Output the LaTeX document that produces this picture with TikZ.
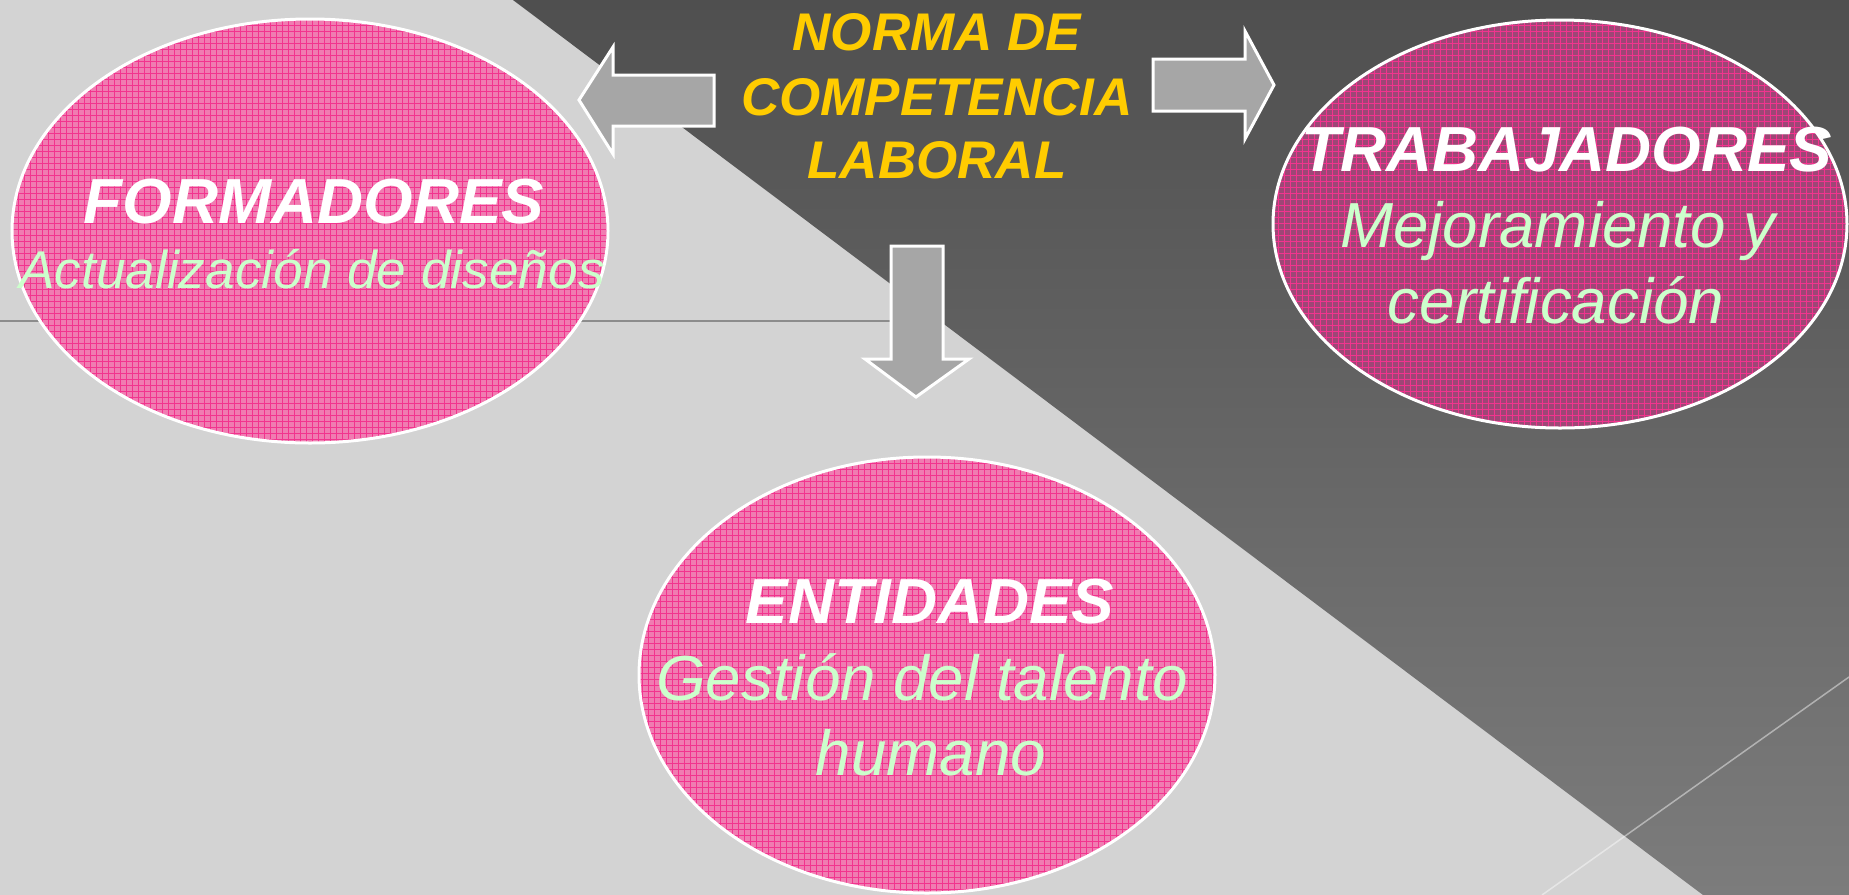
\documentclass[tikz,border=0pt]{standalone}
\usepackage{fontspec}
\setmainfont{Liberation Sans}
\usepackage{xcolor}
\usepackage{tikz}
\usetikzlibrary{shapes.geometric,patterns}

\definecolor{bglight}{HTML}{D3D3D3}
\definecolor{darktop}{HTML}{4F4F4F}
\definecolor{darkbot}{HTML}{7C7C7C}
\definecolor{linegrey}{HTML}{8C8C8C}
\definecolor{arrowgrey}{HTML}{A6A6A6}
\definecolor{pinklight}{HTML}{F07CB1}
\definecolor{pinkdark}{HTML}{9E4676}
\definecolor{hotpink}{HTML}{F2348E}
\definecolor{gold}{HTML}{FFCC00}
\definecolor{mint}{HTML}{CCFFCC}

\begin{document}
\begin{tikzpicture}[x=0.5pt,y=-0.5pt,
    blob/.style={ellipse, draw=white, line width=1.5pt, inner sep=0pt, pattern=grid, pattern color=hotpink},
    blockarrow/.style={fill=arrowgrey, draw=white, line width=1.5pt},
    head/.style={anchor=base, text=white, font=\fontsize{31.85pt}{38pt}\selectfont\bfseries\itshape},
    sub/.style={anchor=base, text=mint, font=\fontsize{31.85pt}{38pt}\selectfont\itshape},
    norma/.style={anchor=base, text=gold, font=\fontsize{26.5pt}{32pt}\selectfont\bfseries\itshape}]
      \useasboundingbox (0,0) rectangle (1849,895);
      \fill[bglight] (0,0) rectangle (1849,895);
      \shade[top color=darktop, bottom color=darkbot] (513,0) -- (1849,0) -- (1849,895) -- (1703,895) -- cycle;
      \coordinate (L1) at (0,321);
      \coordinate (L2) at (893,321);
      \draw[linegrey, line width=0.75pt] (L1) -- (L2);
      \coordinate (R1) at (1542,895);
      \coordinate (R2) at (1849,677);
      \draw[white, opacity=0.45, line width=0.75pt] (R1) -- (R2);
      \node[blob, preaction={fill=pinklight}, minimum width=298pt, minimum height=212pt] (F) at (310,231) {};
      \node[blob, preaction={fill=pinkdark}, minimum width=287pt, minimum height=204pt] (T) at (1560,224) {};
      \node[blob, preaction={fill=pinklight}, minimum width=288pt, minimum height=218pt] (E) at (927,675) {};
      \draw[blockarrow] (714,75) -- (613,75) -- (613,47) -- (579,100) -- (613,154) -- (613,126) -- (714,126) -- cycle;
      \draw[blockarrow] (1153,59) -- (1245,59) -- (1245,31) -- (1274,85) -- (1245,139) -- (1245,111) -- (1153,111) -- cycle;
      \draw[blockarrow] (891,246) -- (943,246) -- (943,359) -- (969,359) -- (916,397) -- (865,359) -- (891,359) -- cycle;
      \node[norma] (N1) at (937,50) {NORMA DE};
      \node[norma] (N2) at (937,115) {COMPETENCIA};
      \node[norma] (N3) at (937,178) {LABORAL};
      \node[head] (Fh) at (314,223) {FORMADORES};
      \node[sub, font=\fontsize{26.6pt}{32pt}\selectfont\itshape] (Fs) at (312,288) {Actualización de diseños};
      \node[head] (Th) at (1567,171) {TRABAJADORES};
      \node[sub] (Ts1) at (1558,247) {Mejoramiento y};
      \node[sub] (Ts2) at (1556,323) {certificación};
      \node[head] (Eh) at (930,623) {ENTIDADES};
      \node[sub] (Es1) at (922,700) {Gestión del talento};
      \node[sub] (Es2) at (931,775) {humano};
    \end{tikzpicture}
\end{document}
